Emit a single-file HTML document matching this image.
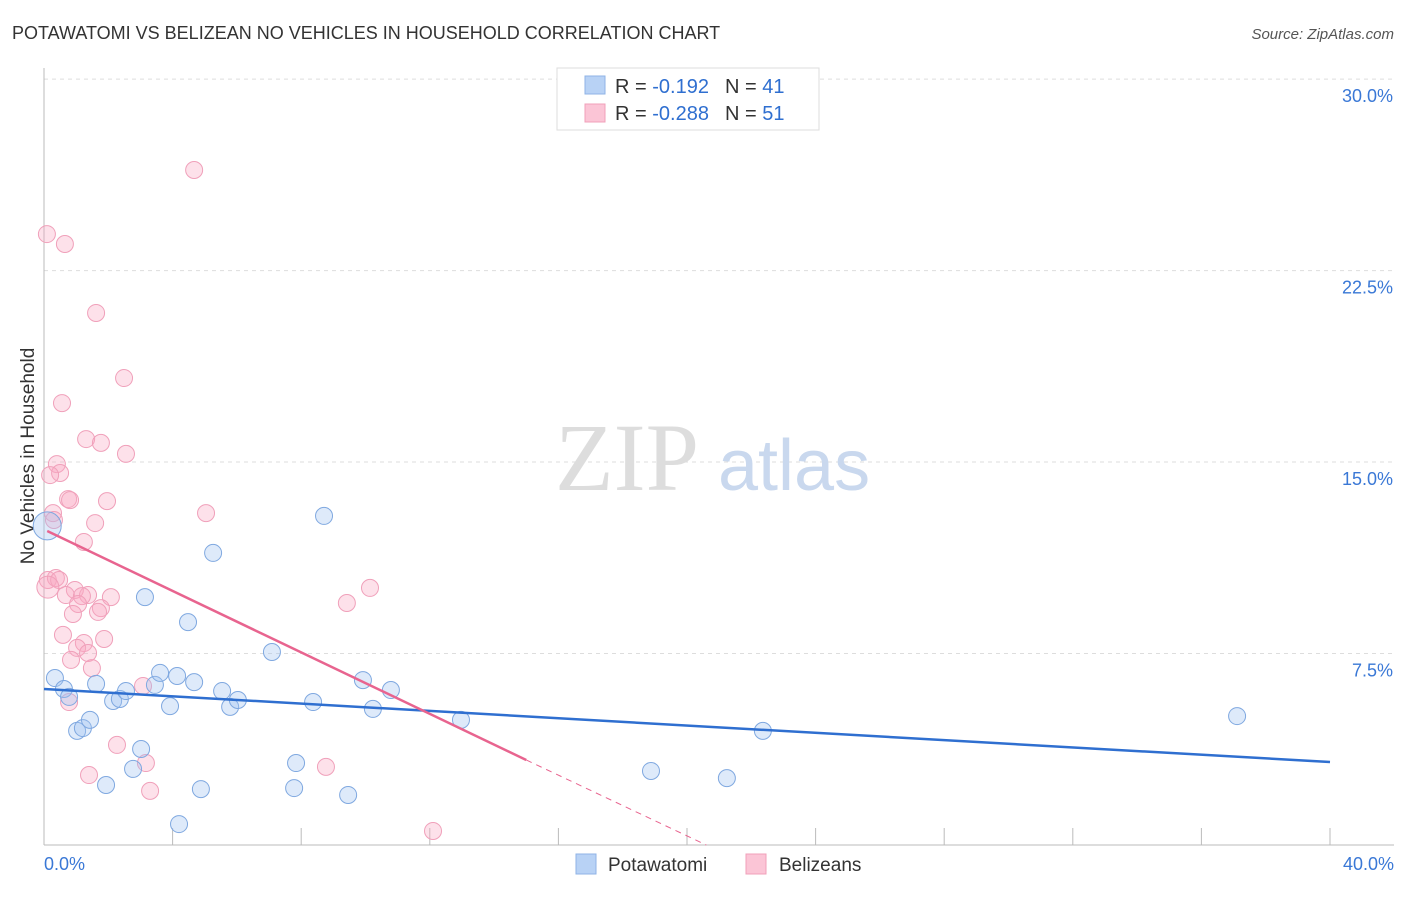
<!DOCTYPE html>
<html><head><meta charset="utf-8"><style>
body{margin:0;background:#fff;font-family:"Liberation Sans",sans-serif;}
</style></head><body>
<svg width="1406" height="892" xmlns="http://www.w3.org/2000/svg" style="font-family:'Liberation Sans',sans-serif">
<text x="12" y="39" font-size="18" fill="#333">POTAWATOMI VS BELIZEAN NO VEHICLES IN HOUSEHOLD CORRELATION CHART</text>
<text x="1394" y="39" font-size="15" fill="#555" text-anchor="end" font-style="italic">Source: ZipAtlas.com</text>
<g id="grid"></g>
<text x="0" y="0" font-size="19" fill="#333" text-anchor="middle" transform="translate(34 456) rotate(-90)">No Vehicles in Household</text>
<g>
<text x="555" y="490" font-size="96" fill="#ddd" font-family="Liberation Serif,serif">ZIP</text>
<text x="718" y="490" font-size="72" fill="#c9d8ee">atlas</text>
</g>
<g id="pts"></g>
<g id="lines"></g>
<g>
<rect x="557" y="68" width="262" height="62" fill="#fff" stroke="#ddd"/>
<rect x="585" y="76" width="20" height="18" fill="#b8d2f5" stroke="#8fb3e6"/>
<rect x="585" y="104" width="20" height="18" fill="#fbc5d6" stroke="#f0a0ba"/>
<text x="615" y="93" font-size="20" fill="#333">R = <tspan fill="#2f6fd0"> -0.192</tspan><tspan dx="16">N = </tspan><tspan fill="#2f6fd0">41</tspan></text>
<text x="615" y="120" font-size="20" fill="#333">R = <tspan fill="#2f6fd0">-0.288</tspan><tspan dx="16">N = </tspan><tspan fill="#2f6fd0">51</tspan></text>
</g>
<g>
<rect x="576" y="854" width="20" height="20" fill="#b8d2f5" stroke="#8fb3e6"/>
<text x="608" y="871" font-size="19" fill="#333">Potawatomi</text>
<rect x="746" y="854" width="20" height="20" fill="#fbc5d6" stroke="#f0a0ba"/>
<text x="779" y="871" font-size="19" fill="#333">Belizeans</text>
</g>
</svg>
<script>
const yTicks=[7.5,15,22.5,30];
const yTickLabels=["7.5%","15.0%","22.5%","30.0%"];
const xTicks=[0,4,8,12,16,20,24,28,32,36,40];
const blueX=[0.34,0.62,0.78,1.62,1.03,1.21,1.43,1.93,2.15,2.36,2.55,2.77,3.02,3.14,3.45,3.61,3.92,4.14,4.20,4.48,4.67,4.88,5.26,5.54,5.79,6.03,7.09,7.78,7.84,8.37,8.71,9.46,9.92,10.23,10.79,12.97,18.88,21.24,22.36,37.11,0.1];
const blueY=[6.54,6.11,5.80,6.31,4.47,4.58,4.90,2.35,5.64,5.72,6.03,2.98,3.76,9.71,6.27,6.74,5.44,6.62,0.82,8.73,6.38,2.19,11.44,6.03,5.41,5.68,7.56,2.23,3.21,5.60,12.89,1.96,6.46,5.33,6.07,4.90,2.90,2.62,4.47,5.05,12.5];
const pinkX=[0.09,0.65,4.67,1.62,2.49,0.56,1.31,1.77,2.55,0.40,0.50,0.19,0.75,0.81,1.96,5.04,0.28,0.31,1.59,1.24,0.12,0.37,0.47,0.96,0.68,1.37,2.08,1.18,1.06,1.77,1.68,0.90,9.42,10.14,0.59,1.87,1.24,1.03,1.37,0.84,1.49,0.78,3.08,2.27,3.17,1.40,3.30,8.77,12.10,0.12];
const pinkY=[23.93,23.54,26.44,20.84,18.29,17.31,15.90,15.75,15.32,14.92,14.57,14.49,13.55,13.51,13.47,13.00,13.00,12.73,12.61,11.87,10.38,10.46,10.38,9.99,9.79,9.79,9.71,9.75,9.44,9.28,9.13,9.05,9.48,10.07,8.23,8.07,7.91,7.72,7.52,7.25,6.93,5.60,6.23,3.92,3.21,2.74,2.12,3.06,0.55,10.1];
const blueTrend=[0,6.11,40,3.25];
const pinkTrend=[0.1,12.3,15.0,3.33,20.6,0];
const X=v=>44+v*32.15, Y=v=>845-v*25.53;
const NS="http://www.w3.org/2000/svg";
function mk(t,a,p){const e=document.createElementNS(NS,t);for(const k in a)e.setAttribute(k,a[k]);p.appendChild(e);return e;}
const g=document.getElementById('grid');
yTicks.forEach((v,i)=>{
 const l=mk('line',{x1:44,x2:1394,y1:Y(v),y2:Y(v),stroke:'#ddd','stroke-dasharray':'4,4'},g);
 
 
 const t=mk('text',{x:1393,y:Y(v)+23,'font-size':18,fill:'#3a78d6','text-anchor':'end'},g);t.textContent=yTickLabels[i];
 
 
});
mk('line',{x1:44,x2:44,y1:68,y2:845,stroke:'#bbb'},g);
mk('line',{x1:44,x2:1394,y1:845,y2:845,stroke:'#bbb'},g);
xTicks.forEach(v=>{const l=mk('line',{x1:X(v),x2:X(v),y1:828,y2:845,stroke:'#bbb'},g);
 
 });
let t=mk('text',{x:44,y:870,'font-size':18,fill:'#3a78d6'},g);t.textContent='0.0%';


t=mk('text',{x:1394,y:870,'font-size':18,fill:'#3a78d6','text-anchor':'end'},g);t.textContent='40.0%';


const p=document.getElementById('pts');
pinkX.forEach((x,i)=>{const c=mk('circle',{cx:X(x),cy:Y(pinkY[i]),r:(i==pinkX.length-1?11:8.5),fill:'rgba(248,170,196,0.35)',stroke:'#f0a0ba','stroke-width':1},p);
 
 });
blueX.forEach((x,i)=>{const c=mk('circle',{cx:X(x),cy:Y(blueY[i]),r:(i==blueX.length-1?14:8.5),fill:'rgba(160,195,240,0.35)',stroke:'#7fa8e0','stroke-width':1},p);
 
 });
const L=document.getElementById('lines');
let l=mk('line',{x1:X(blueTrend[0]),y1:Y(blueTrend[1]),x2:X(blueTrend[2]),y2:Y(blueTrend[3]),stroke:'#2f6fd0','stroke-width':2.5},L);


l=mk('line',{x1:X(pinkTrend[0]),y1:Y(pinkTrend[1]),x2:X(pinkTrend[2]),y2:Y(pinkTrend[3]),stroke:'#e8648f','stroke-width':2.5},L);


l=mk('line',{x1:X(pinkTrend[2]),y1:Y(pinkTrend[3]),x2:X(pinkTrend[4]),y2:Y(pinkTrend[5]),stroke:'#e8648f','stroke-width':1,'stroke-dasharray':'6,5'},L);


</script>
</body></html>
